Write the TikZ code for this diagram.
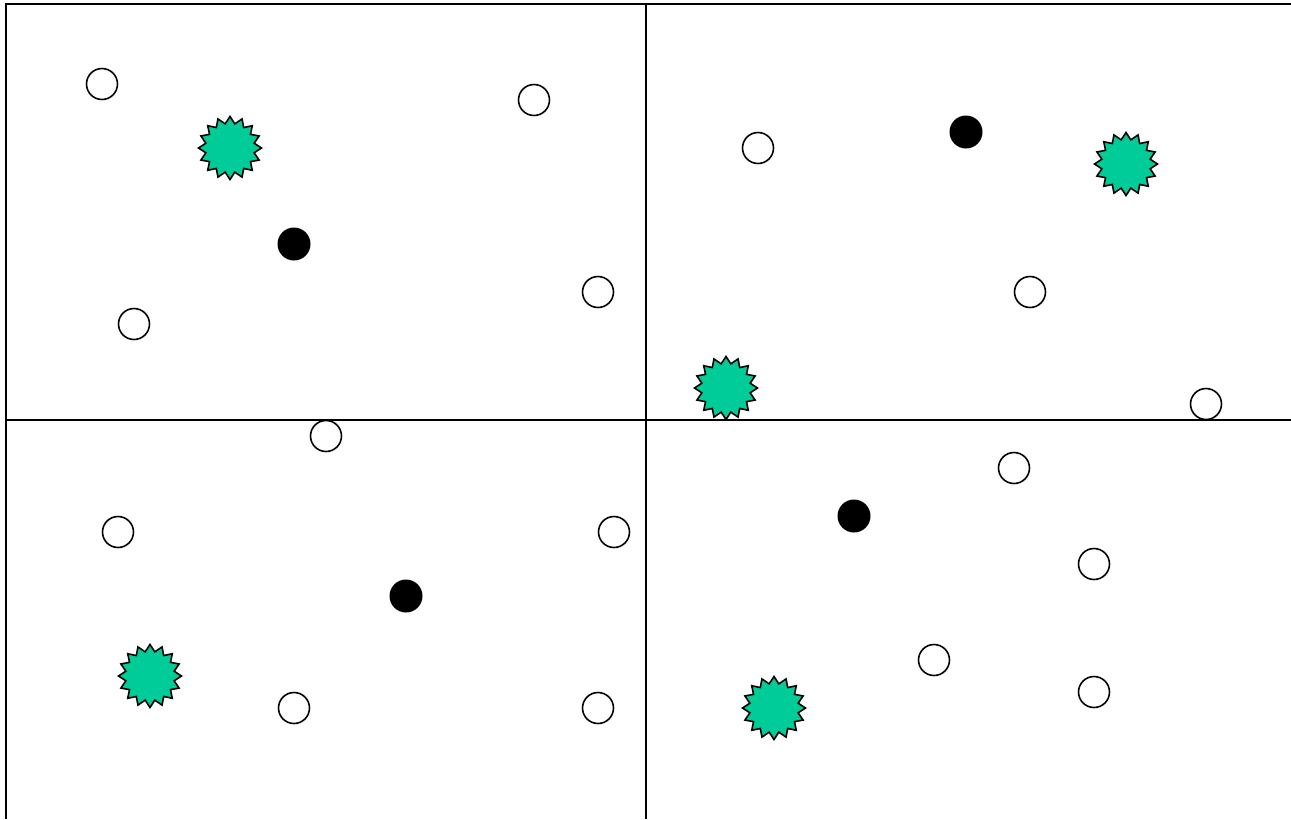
\documentclass[tikz,border=0pt]{standalone}
\usepackage{tikz}
\usetikzlibrary{shapes.geometric}

\definecolor{burstgreen}{RGB}{0,204,153}

\begin{document}
\begin{tikzpicture}[x=0.02cm, y=-0.02cm,
    hole/.style={circle, draw=black, fill=white, line width=0.9pt, minimum size=0.62cm, inner sep=0pt},
    dot/.style={circle, fill=black, minimum size=0.66cm, inner sep=0pt},
    burst/.style={star, star points=16, star point ratio=1.28, draw=black, fill=burstgreen, line width=0.9pt, minimum size=1.26cm, inner sep=0pt}]
        \useasboundingbox (0,0) rectangle (1291,819);

        % --- quadrant frame ---
        \coordinate (TL) at (6,4);
        \coordinate (TR) at (1291,4);
        \coordinate (BL) at (6,819);
        \coordinate (MT) at (646,4);
        \coordinate (MB) at (646,819);
        \coordinate (ML) at (6,420);
        \coordinate (MR) at (1291,420);
        \draw[line width=1.1pt] (BL) -- (TL) -- (TR);
        \draw[line width=1.1pt] (MT) -- (MB);
        \draw[line width=1.1pt] (ML) -- (MR);

        % --- open circles ---
        \foreach \px/\py [count=\i] in {102/84, 534/100, 598/292, 134/324,
                758/148, 1030/292, 1206/404,
                326/436, 118/532, 614/532, 294/708, 598/708,
                1014/468, 1094/564, 934/660, 1094/692}
            \node[hole] (h\i) at (\px,\py) {};

        % --- filled dots ---
        \node[dot] (d1) at (294,244) {};
        \node[dot] (d2) at (966,132) {};
        \node[dot] (d3) at (406,596) {};
        \node[dot] (d4) at (854,516) {};

        % --- green bursts ---
        \node[burst] (s1) at (230,148) {};
        \node[burst] (s2) at (1126,164) {};
        \node[burst] (s3) at (726,388) {};
        \node[burst] (s4) at (150,676) {};
        \node[burst] (s5) at (774,708) {};
\end{tikzpicture}
\end{document}
